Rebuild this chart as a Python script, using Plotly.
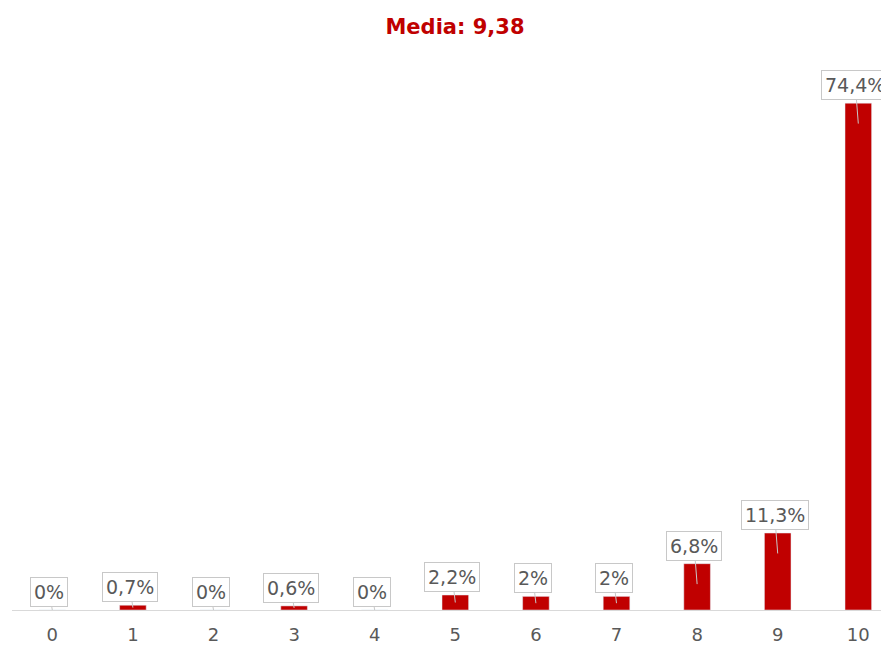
import plotly.graph_objects as go

categories = ["0", "1", "2", "3", "4", "5", "6", "7", "8", "9", "10"]
values = [0, 0.7, 0, 0.6, 0, 2.2, 2, 2, 6.8, 11.3, 74.4]
title_text = "Media: 9,38"

RED = "#c00000"
GRAY = "#595959"
FONT = "DejaVu Sans"

W, H = 889, 650
mt, mb, ml, mr = 57, 48, 4, 0
ymax = 80
px_per_unit = (H - mt - mb) / ymax

fig = go.Figure()
fig.add_trace(go.Bar(
    x=list(range(len(categories))), y=values,
    marker_color=RED, width=0.33, hoverinfo="skip",
))

for i, v in enumerate(values):
    label = f"{v:g}".replace(".", ",") + "%"
    tip = max(v - 3.0, v * 0.5)
    ay = -(18 + (v - tip) * px_per_unit)
    fig.add_annotation(
        x=i, y=tip, xref="x", yref="y",
        text=label, showarrow=True, arrowhead=0, arrowwidth=1,
        arrowcolor="#c8c8c8", ax=-3, ay=ay,
        font=dict(family=FONT, size=19, color=GRAY),
        bgcolor="white", bordercolor="#c8c8c8", borderwidth=1, borderpad=3,
    )

fig.update_layout(
    width=W, height=H,
    margin=dict(l=ml, r=mr, t=mt, b=mb),
    paper_bgcolor="white", plot_bgcolor="white",
    showlegend=False,
    title=dict(text=f"<b>{title_text}</b>", x=447 / W, xanchor="center",
               y=1 - 19 / H, yanchor="middle", yref="container",
               font=dict(family=FONT, size=21, color=RED)),
    xaxis=dict(tickmode="array", tickvals=list(range(len(categories))),
               ticktext=categories, range=[-0.5, 10.48],
               showgrid=False, zeroline=False, showline=True,
               linecolor="#d9d9d9", linewidth=1,
               ticks="outside", ticklen=8, tickcolor="white",
               tickfont=dict(family=FONT, size=18, color=GRAY)),
    yaxis=dict(range=[0, ymax], visible=False, showgrid=False, zeroline=False),
)

fig.write_html("out.html")
